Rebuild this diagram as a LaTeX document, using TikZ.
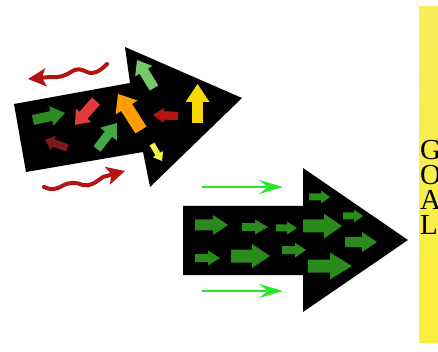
\documentclass[tikz,border=0pt]{standalone}
\usepackage{fontspec}
\setmainfont{Liberation Serif}
\usetikzlibrary{calc,arrows.meta}

\definecolor{goaltop}{RGB}{248,238,90}
\definecolor{goalmid}{RGB}{255,241,0}
\definecolor{goalbot}{RGB}{250,238,60}
\definecolor{wavered}{RGB}{178,20,20}
\definecolor{guidegreen}{RGB}{40,230,40}
\definecolor{flowgreen}{RGB}{42,138,28}
\definecolor{dkgreen}{RGB}{46,139,34}
\definecolor{medgreen}{RGB}{68,168,68}
\definecolor{ltgreen}{RGB}{120,200,104}
\definecolor{brightred}{RGB}{224,58,58}
\definecolor{deepred}{RGB}{184,20,20}
\definecolor{darkred}{RGB}{123,26,26}
\definecolor{orangeB}{RGB}{255,158,0}
\definecolor{yellowB}{RGB}{248,216,0}
\definecolor{paleyellow}{RGB}{242,242,74}

% block arrow: fill colour, tail, tip, half shaft width, half head width, head length
\newcommand\blockarrow[6]{%
  \coordinate (bh) at ($(#3)!#6!(#2)$);
  \fill[#1] ($(#2)!#4!90:(#3)$) -- ($(bh)!#4!90:(#3)$) -- ($(bh)!#5!90:(#3)$) -- (#3)
    -- ($(bh)!#5!-90:(#3)$) -- ($(bh)!#4!-90:(#3)$) -- ($(#2)!#4!-90:(#3)$) -- cycle;
}

\tikzset{
  wave/.style={draw=wavered, line width=4pt, line cap=round,
    -{Stealth[length=18pt,width=18pt,inset=4pt]}},
  guide/.style={draw=guidegreen, line width=2pt,
    -{Stealth[length=24pt,width=14pt,inset=9pt]}},
  goalletter/.style={anchor=base west, inner sep=0pt,
    font=\fontsize{29}{29}\selectfont}
}

\begin{document}
\begin{tikzpicture}[x=1pt,y=-1pt]
\useasboundingbox (0,0) rectangle (438,352);
\fill[white] (0,0) rectangle (438,352);

% goal bar with its word set one letter per line
\shade[top color=goaltop, middle color=goalmid, bottom color=goalbot] (419,7) rectangle (438,342);
\node[goalletter] (goalG) at (420,160) {G};
\node[goalletter] (goalO) at (420,184.7) {O};
\node[goalletter] (goalA) at (420,209.4) {A};
\node[goalletter] (goalL) at (420,234) {L};

% tilted big arrow with scattered forces
\fill[black] (14,104) -- (130,83) -- (125,47) -- (242,98) -- (150,187) -- (143,152) -- (26,172) -- cycle;
\blockarrow{dkgreen}{33,120}{65,113}{5pt}{10pt}{14pt}
\blockarrow{brightred}{96,101}{75,125}{5.3pt}{10.2pt}{13pt}
\blockarrow{darkred}{67.5,148}{45,140}{3.8pt}{7.8pt}{9pt}
\blockarrow{medgreen}{97,149}{117,123}{4.5pt}{10.5pt}{14pt}
\blockarrow{ltgreen}{154,88}{137,60}{5pt}{10pt}{13pt}
\blockarrow{orangeB}{141,130}{118,94}{6.5pt}{13pt}{16pt}
\blockarrow{deepred}{178,116}{153,115}{4.2pt}{7.5pt}{11pt}
\blockarrow{yellowB}{197.5,123}{197.5,84}{5.3pt}{12pt}{18pt}
\blockarrow{paleyellow}{152,144}{162,161}{2.8pt}{6pt}{8pt}

% wavy side arrows
\draw[wave] (107,64) .. controls (100,71) and (94,75) .. (87,72)
  .. controls (81,69) and (77,68) .. (71,72)
  .. controls (65,76) and (58,78) .. (50,77) -- (28,79);
\draw[wave] (44,187) .. controls (50,190) and (55,190) .. (62,186)
  .. controls (69,182) and (76,182) .. (83,185)
  .. controls (90,187) and (96,182) .. (103,177) -- (125,171);

% straight big arrow with aligned forces
\fill[black] (183,206) -- (303,206) -- (303,168) -- (408,240) -- (303,312) -- (303,275) -- (183,275) -- cycle;
\blockarrow{flowgreen}{195,225}{228,225}{5.5pt}{10pt}{15pt}
\blockarrow{flowgreen}{242,227}{268,227}{4pt}{7.5pt}{13pt}
\blockarrow{flowgreen}{276,228}{297,228}{3.5pt}{6.5pt}{10pt}
\blockarrow{flowgreen}{195,258}{220,258}{4pt}{7.5pt}{12pt}
\blockarrow{flowgreen}{231,256}{270,256}{6.5pt}{12pt}{18pt}
\blockarrow{flowgreen}{282,250}{306,250}{4pt}{7.5pt}{11pt}
\blockarrow{flowgreen}{309,197}{330,197}{3.5pt}{6.5pt}{9pt}
\blockarrow{flowgreen}{303,226}{342,226}{6.5pt}{12.5pt}{18pt}
\blockarrow{flowgreen}{343,216}{363,216}{3.5pt}{6.5pt}{9pt}
\blockarrow{flowgreen}{345,242}{377,242}{5pt}{10pt}{15pt}
\blockarrow{flowgreen}{308,266}{352,266}{6.5pt}{13.5pt}{22pt}

% guiding lines above and below
\coordinate (ga1) at (202,187);
\coordinate (gb1) at (283,187);
\coordinate (ga2) at (202,291);
\coordinate (gb2) at (283,291);
\draw[guide] (ga1) -- (gb1);
\draw[guide] (ga2) -- (gb2);
\end{tikzpicture}
\end{document}
